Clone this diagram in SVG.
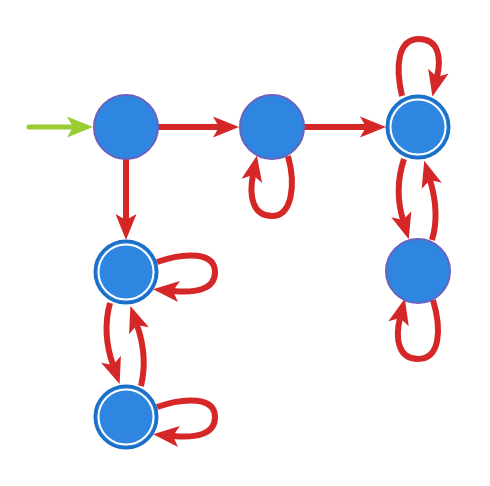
<svg xmlns="http://www.w3.org/2000/svg" width="490" height="486" viewBox="0 0 490 486">
<style>
.e{fill:none;stroke:#d62728;stroke-width:6;marker-end:url(#ar)}
.s{fill:#2e86e0;stroke:#6a62bc;stroke-width:2}
.d{fill:#2e86e0;stroke:#1a6fc6;stroke-width:3}
.w{fill:none;stroke:#fff;stroke-width:2}
</style>
<defs>
<marker id="ar" markerUnits="userSpaceOnUse" viewBox="-1 -12 30 24" markerWidth="30" markerHeight="24" refX="6" refY="0" orient="auto">
<path d="M0,-10.5 L26,0 L0,10.5 L6,0 Z" fill="#d62728"/>
</marker>
<marker id="ag" markerUnits="userSpaceOnUse" viewBox="-1 -12 30 24" markerWidth="30" markerHeight="24" refX="6" refY="0" orient="auto">
<path d="M0,-10.5 L26,0 L0,10.5 L6,0 Z" fill="#9acd32"/>
</marker>
</defs>
<g id="edges">
<path d="M29,127 L73,127" fill="none" stroke="#9acd32" stroke-width="5" stroke-linecap="round" marker-end="url(#ag)"/>
<path class="e" d="M158,127 L219,127"/>
<path class="e" d="M304,127 L366,127"/>
<path class="e" d="M126,159 L126,220"/>
<path class="e" d="M288,156 C296,185 292,216 272,216 C252,216 249,195 253,175"/>
<path class="e" d="M402,96 C395,65 398,39 419,39 C440,39 441,60 437,77"/>
<path class="e" d="M404,159 C397,180 397,200 403,220"/>
<path class="e" d="M432,240 C438,220 436,200 430,180"/>
<path class="e" d="M433,300 C442,330 440,359 418,359 C398,359 395,338 400,318"/>
<path class="e" d="M157,262 C185,252 215,252 215,272 C215,290 195,293 173,291"/>
<path class="e" d="M110,303 C104,325 106,345 113,365"/>
<path class="e" d="M141,386 C146,365 144,345 137,325"/>
<path class="e" d="M157,407 C185,397 215,397 215,417 C215,435 195,438 173,436"/>
</g>
<g id="n0"><circle class="s" cx="126" cy="127" r="32"/></g>
<g id="n1"><circle class="s" cx="272" cy="127" r="32"/></g>
<g id="n2"><circle class="d" cx="418" cy="127" r="31"/><circle class="w" cx="418" cy="127" r="27.5"/></g>
<g id="n3"><circle class="d" cx="126" cy="272" r="31"/><circle class="w" cx="126" cy="272" r="27.5"/></g>
<g id="n4"><circle class="d" cx="126" cy="417" r="31"/><circle class="w" cx="126" cy="417" r="27.5"/></g>
<g id="n5"><circle class="s" cx="418" cy="271" r="32"/></g>
</svg>
